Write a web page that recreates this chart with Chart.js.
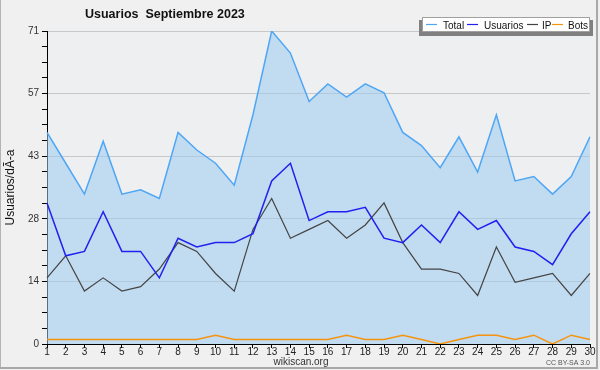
<!DOCTYPE html>
<html>
<head>
<meta charset="utf-8">
<script src="https://cdn.jsdelivr.net/npm/chart.js@4"></script>
<style>
  body { margin: 0; background: #f0f0f0; }
  #wrap { width: 600px; height: 370px; }
</style>
</head>
<body>
<div id="wrap"><canvas id="chart" width="600" height="370"></canvas></div>
<script>
var days = [];
for (var d = 1; d <= 30; d++) days.push(String(d));

var total    = [48, 41, 34, 46, 34, 35, 33, 48, 44, 41, 36, 52, 71, 66, 55, 59, 56, 59, 57, 48, 45, 40, 47, 39, 52, 37, 38, 34, 38, 47];
var usuarios = [32, 20, 21, 30, 21, 21, 15, 24, 22, 23, 23, 25, 37, 41, 28, 30, 30, 31, 24, 23, 27, 23, 30, 26, 28, 22, 21, 18, 25, 30];
var ip       = [15, 20, 12, 15, 12, 13, 17, 23, 21, 16, 12, 26, 33, 24, 26, 28, 24, 27, 32, 23, 17, 17, 16, 11, 22, 14, 15, 16, 11, 16];
var bots     = [1, 1, 1, 1, 1, 1, 1, 1, 1, 2, 1, 1, 1, 1, 1, 1, 2, 1, 1, 2, 1, 0, 1, 2, 2, 1, 2, 0, 2, 1];

var yMax = 71;
var yLabels = ['0', '14', '28', '43', '57', '71'];
var minorPerMajor = 4;

var seriesNames = ['Total', 'Usuarios', 'IP', 'Bots'];
var seriesColors = ['#4ea6f5', '#2020f0', '#444444', '#f5940f'];

// background, frame, title, legend box, footer
var decor = {
  id: 'decor',
  beforeDraw: function(chart) {
    var c = chart.ctx, a = chart.chartArea;
    c.save();
    c.fillStyle = '#f0f0f0';
    c.fillRect(0, 0, 600, 370);
    c.fillStyle = '#eeeff1';
    c.fillRect(a.left, a.top - 3, a.right - a.left, a.bottom - a.top + 3);
    c.strokeStyle = '#b4b4b4';
    c.lineWidth = 1;
    c.beginPath(); c.moveTo(0.5, 0); c.lineTo(0.5, 368); c.stroke();
    c.lineWidth = 2;
    c.strokeStyle = '#a8a8a8';
    c.beginPath(); c.moveTo(597, 0); c.lineTo(597, 368); c.lineTo(0, 368); c.stroke();
    c.restore();
  },
  afterDraw: function(chart) {
    var c = chart.ctx;
    c.save();
    c.fillStyle = '#111';
    c.font = 'bold 12.5px "Liberation Sans", sans-serif';
    c.textBaseline = 'alphabetic';
    c.textAlign = 'left';
    c.fillText('Usuarios  Septiembre 2023', 85, 18);

    // legend
    c.fillStyle = '#808080';
    c.fillRect(419, 20, 174, 16);
    c.fillStyle = '#ffffff';
    c.fillRect(422.5, 17.5, 167, 14);
    c.strokeStyle = '#a0a0a0';
    c.lineWidth = 1;
    c.strokeRect(422.5, 17.5, 167, 14);
    c.font = '10px "Liberation Sans", sans-serif';
    var lineX = [426, 467, 527, 552];
    var textX = [443, 484, 542, 568];
    for (var i = 0; i < seriesNames.length; i++) {
      c.strokeStyle = seriesColors[i];
      c.lineWidth = 1.2;
      c.beginPath(); c.moveTo(lineX[i], 24.5); c.lineTo(lineX[i] + 11, 24.5); c.stroke();
      c.fillStyle = '#111';
      c.fillText(seriesNames[i], textX[i], 28.5);
    }

    c.fillStyle = '#333';
    c.font = '10px "Liberation Sans", sans-serif';
    c.textAlign = 'center';
    c.fillText('wikiscan.org', 301, 365);
    c.font = '7px "Liberation Sans", sans-serif';
    c.textAlign = 'right';
    c.fillStyle = '#555';
    c.fillText('CC BY-SA 3.0', 590, 365);
    c.restore();
  }
};

new Chart(document.getElementById('chart').getContext('2d'), {
  type: 'line',
  data: {
    labels: days,
    datasets: [
      { label: seriesNames[0], data: total, borderColor: seriesColors[0], borderWidth: 1.5,
        fill: 'origin', backgroundColor: 'rgba(156,203,239,0.55)', order: 10 },
      { label: seriesNames[1], data: usuarios, borderColor: seriesColors[1], borderWidth: 1.5, fill: false, order: 2 },
      { label: seriesNames[2], data: ip, borderColor: seriesColors[2], borderWidth: 1.2, fill: false, order: 3 },
      { label: seriesNames[3], data: bots, borderColor: seriesColors[3], borderWidth: 1.5, fill: false, order: 1 }
    ]
  },
  options: {
    responsive: false,
    animation: false,
    layout: { padding: { left: 0, right: 10, top: 31, bottom: 0 } },
    elements: { point: { radius: 0 }, line: { tension: 0 } },
    plugins: { legend: { display: false }, title: { display: false }, tooltip: { enabled: false } },
    scales: {
      x: {
        offset: false,
        grid: { drawOnChartArea: false, tickLength: 4, tickColor: '#000' },
        border: { color: '#000', width: 1 },
        ticks: { color: '#222', padding: -2, maxRotation: 0, autoSkip: false,
                 font: { family: '"Liberation Sans", sans-serif', size: 10 } },
        afterFit: function(s) { s.height = 26; }
      },
      y: {
        min: 0,
        max: yMax,
        afterBuildTicks: function(s) {
          var n = (yLabels.length - 1) * minorPerMajor, t = [];
          for (var i = 0; i <= n; i++) t.push({ value: yMax * i / n });
          s.ticks = t;
        },
        grid: {
          color: function(ctx) { return (ctx.index % minorPerMajor === 0 && ctx.index > 0) ? '#c8c8c8' : 'transparent'; },
          tickColor: '#000',
          tickLength: 5
        },
        border: { color: '#000', width: 1 },
        ticks: {
          color: '#333',
          padding: 3,
          autoSkip: false,
          font: { family: '"Liberation Sans", sans-serif', size: 10 },
          callback: function(v, i) { return i % minorPerMajor === 0 ? yLabels[i / minorPerMajor] : ''; }
        },
        title: {
          display: true,
          text: 'Usuarios/dÃ-a',
          color: '#111',
          padding: { top: 3, bottom: 0 },
          font: { family: '"Liberation Sans", sans-serif', size: 12 }
        },
        afterFit: function(s) { s.width = 47; }
      }
    }
  },
  plugins: [decor]
});
</script>
</body>
</html>
